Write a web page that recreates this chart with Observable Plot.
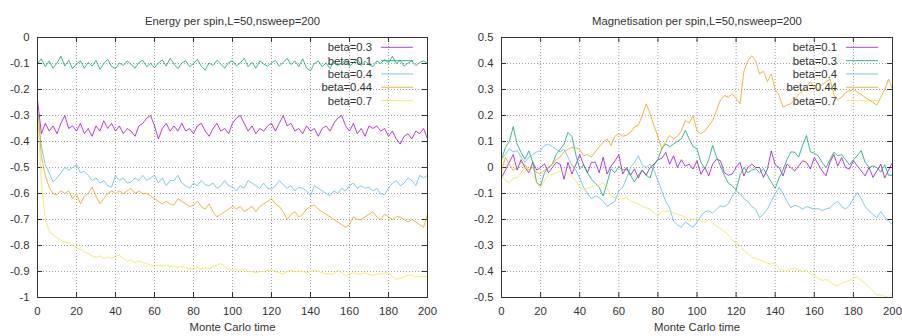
<!DOCTYPE html>
<html>
<head>
<meta charset="utf-8">
<script src="https://cdn.jsdelivr.net/npm/d3@7"></script>
<script src="https://cdn.jsdelivr.net/npm/@observablehq/plot@0.6"></script>
<style>
  body { margin: 0; background: #fff; }
  #charts { display: flex; width: 902px; height: 336px; }
</style>
</head>
<body>
<div id="charts"></div>
<script>
// Monte Carlo sweeps, sampled every second sweep
const time = d3.range(0, 201, 2);

// ---- Energy per spin (L=50, nsweep=200) ----
const energyLabels = ["beta=0.3", "beta=0.1", "beta=0.4", "beta=0.44", "beta=0.7"];

const energyBeta03 = [
  -0.24, -0.37, -0.33, -0.36, -0.34, -0.37, -0.33, -0.30, -0.35, -0.34,
  -0.36, -0.33, -0.37, -0.35, -0.38, -0.34, -0.36, -0.32, -0.35, -0.33,
  -0.36, -0.34, -0.37, -0.35, -0.36, -0.38, -0.34, -0.33, -0.31, -0.30,
  -0.34, -0.39, -0.35, -0.33, -0.36, -0.34, -0.36, -0.33, -0.36, -0.35,
  -0.37, -0.34, -0.33, -0.36, -0.38, -0.35, -0.33, -0.36, -0.35, -0.37,
  -0.33, -0.31, -0.30, -0.33, -0.36, -0.34, -0.37, -0.35, -0.36, -0.34,
  -0.33, -0.36, -0.33, -0.30, -0.34, -0.33, -0.36, -0.35, -0.37, -0.34,
  -0.36, -0.35, -0.38, -0.35, -0.34, -0.36, -0.33, -0.31, -0.30, -0.34,
  -0.36, -0.33, -0.37, -0.35, -0.38, -0.34, -0.35, -0.34, -0.36, -0.35,
  -0.38, -0.36, -0.39, -0.41, -0.38, -0.37, -0.39, -0.36, -0.37, -0.35,
  -0.39
];
const energyBeta01 = [
  -0.100, -0.082, -0.112, -0.090, -0.118, -0.098, -0.072, -0.110, -0.088, -0.120,
  -0.102, -0.090, -0.118, -0.096, -0.110, -0.088, -0.122, -0.100, -0.084, -0.112,
  -0.120, -0.098, -0.108, -0.090, -0.104, -0.118, -0.096, -0.088, -0.112, -0.100,
  -0.116, -0.098, -0.086, -0.110, -0.080, -0.102, -0.120, -0.098, -0.090, -0.112,
  -0.100, -0.084, -0.110, -0.126, -0.098, -0.108, -0.088, -0.102, -0.118, -0.096,
  -0.090, -0.110, -0.098, -0.080, -0.112, -0.096, -0.118, -0.090, -0.102, -0.110,
  -0.098, -0.088, -0.110, -0.096, -0.080, -0.104, -0.090, -0.112, -0.082, -0.118,
  -0.128, -0.100, -0.090, -0.112, -0.098, -0.120, -0.090, -0.108, -0.098, -0.088,
  -0.110, -0.098, -0.082, -0.108, -0.090, -0.104, -0.112, -0.090, -0.100, -0.084,
  -0.098, -0.072, -0.100, -0.088, -0.110, -0.098, -0.090, -0.108, -0.096, -0.090,
  -0.100
];
const energyBeta04 = [
  -0.27, -0.42, -0.49, -0.52, -0.556, -0.54, -0.52, -0.50, -0.51, -0.50,
  -0.49, -0.52, -0.515, -0.53, -0.55, -0.54, -0.56, -0.55, -0.57, -0.576,
  -0.53, -0.55, -0.54, -0.56, -0.556, -0.54, -0.55, -0.53, -0.55, -0.54,
  -0.53, -0.56, -0.54, -0.57, -0.55, -0.55, -0.53, -0.56, -0.57, -0.58,
  -0.56, -0.57, -0.55, -0.566, -0.57, -0.56, -0.58, -0.57, -0.55, -0.57,
  -0.575, -0.59, -0.57, -0.58, -0.55, -0.56, -0.57, -0.58, -0.56, -0.58,
  -0.583, -0.57, -0.55, -0.566, -0.58, -0.57, -0.59, -0.576, -0.58, -0.59,
  -0.608, -0.57, -0.58, -0.59, -0.60, -0.608, -0.59, -0.60, -0.58, -0.59,
  -0.57, -0.56, -0.58, -0.57, -0.58, -0.576, -0.59, -0.58, -0.60, -0.605,
  -0.58, -0.56, -0.55, -0.57, -0.56, -0.54, -0.55, -0.57, -0.53, -0.54,
  -0.53
];
const energyBeta044 = [
  -0.27, -0.46, -0.53, -0.576, -0.60, -0.605, -0.59, -0.60, -0.59, -0.62,
  -0.60, -0.64, -0.61, -0.60, -0.575, -0.61, -0.64, -0.62, -0.60, -0.59,
  -0.60, -0.59, -0.60, -0.59, -0.58, -0.60, -0.59, -0.60, -0.60, -0.61,
  -0.62, -0.63, -0.64, -0.63, -0.64, -0.645, -0.62, -0.63, -0.64, -0.65,
  -0.645, -0.63, -0.65, -0.66, -0.64, -0.67, -0.69, -0.68, -0.67, -0.66,
  -0.65, -0.66, -0.65, -0.67, -0.66, -0.65, -0.67, -0.65, -0.64, -0.63,
  -0.62, -0.64, -0.65, -0.67, -0.70, -0.68, -0.67, -0.69, -0.68, -0.66,
  -0.65, -0.645, -0.66, -0.67, -0.68, -0.69, -0.70, -0.71, -0.72, -0.73,
  -0.72, -0.69, -0.70, -0.70, -0.69, -0.68, -0.67, -0.69, -0.70, -0.68,
  -0.69, -0.70, -0.69, -0.69, -0.70, -0.71, -0.70, -0.71, -0.72, -0.73,
  -0.68
];
const energyBeta07 = [
  -0.27, -0.556, -0.70, -0.745, -0.76, -0.77, -0.78, -0.787, -0.79, -0.80,
  -0.81, -0.815, -0.825, -0.83, -0.84, -0.845, -0.84, -0.85, -0.845, -0.85,
  -0.84, -0.838, -0.85, -0.86, -0.855, -0.865, -0.86, -0.865, -0.87, -0.875,
  -0.88, -0.875, -0.88, -0.875, -0.88, -0.88, -0.885, -0.88, -0.885, -0.89,
  -0.89, -0.885, -0.89, -0.885, -0.89, -0.88, -0.875, -0.87, -0.88, -0.89,
  -0.896, -0.89, -0.895, -0.89, -0.90, -0.90, -0.905, -0.90, -0.90, -0.895,
  -0.895, -0.90, -0.905, -0.91, -0.90, -0.895, -0.90, -0.898, -0.90, -0.905,
  -0.90, -0.895, -0.898, -0.905, -0.91, -0.91, -0.91, -0.895, -0.905, -0.915,
  -0.91, -0.905, -0.91, -0.91, -0.905, -0.91, -0.915, -0.91, -0.91, -0.905,
  -0.905, -0.92, -0.93, -0.925, -0.92, -0.915, -0.915, -0.92, -0.92, -0.92,
  -0.92
];

// ---- Magnetisation per spin (L=50, nsweep=200) ----
const magLabels = ["beta=0.1", "beta=0.3", "beta=0.4", "beta=0.44", "beta=0.7"];

const magBeta01 = [
  -0.04, -0.01, 0.02, 0.05, -0.01, 0.03, 0.0, -0.02, 0.02, -0.01,
  0.0, 0.015, -0.02, 0.0, 0.02, 0.013, -0.045, 0.02, -0.025, 0.01,
  0.05, 0.01, -0.02, 0.02, 0.02, -0.02, 0.04, -0.025, 0.005, 0.025,
  0.05, -0.025, 0.0, -0.03, -0.005, -0.04, -0.01, -0.03, 0.0, 0.013,
  0.03, 0.035, 0.058, 0.013, 0.045, 0.0, 0.03, 0.005, 0.013, -0.006,
  0.026, -0.026, 0.0, -0.032, 0.013, 0.032, 0.026, -0.02, -0.03, -0.025,
  0.0, 0.02, -0.032, 0.0, 0.013, 0.0, 0.0, -0.038, -0.006, 0.064,
  0.01, 0.0, -0.032, 0.013, 0.0, -0.013, 0.006, 0.026, 0.02, -0.006,
  0.038, 0.013, -0.013, -0.032, 0.02, 0.05, 0.006, 0.038, 0.0, -0.006,
  0.026, 0.006, -0.013, -0.032, 0.0, -0.038, -0.013, 0.013, -0.04, -0.01,
  0.02
];
const magBeta03 = [
  0.03, 0.077, 0.10, 0.157, 0.09, 0.058, 0.032, 0.064, 0.02, -0.058,
  -0.07, -0.02, 0.0, 0.013, 0.05, 0.07, 0.09, 0.135, 0.12, 0.05,
  -0.006, 0.01, -0.02, -0.045, -0.06, -0.077, -0.11, -0.06, -0.005, -0.02,
  0.003, -0.01, -0.006, -0.03, -0.056, -0.03, -0.01, -0.03, -0.04, 0.01,
  0.03, 0.073, 0.09, 0.08, 0.09, 0.10, 0.11, 0.143, 0.11, 0.08,
  0.072, 0.02, -0.005, 0.03, 0.085, 0.04, 0.005, -0.03, -0.06, -0.07,
  -0.087, -0.03, 0.0, -0.02, -0.01, -0.005, -0.02, -0.005, -0.03, -0.056,
  -0.08, -0.04, -0.01, 0.03, 0.06, 0.059, 0.04, 0.085, 0.123, 0.06,
  0.055, 0.045, 0.02, 0.0, 0.03, 0.059, 0.045, 0.05, 0.03, 0.01,
  0.03, 0.045, 0.065, 0.02, 0.0, 0.006, 0.0, -0.018, 0.01, -0.03,
  -0.03
];
const magBeta04 = [
  0.033, 0.05, 0.072, 0.06, 0.065, 0.04, 0.02, 0.04, 0.05, 0.06,
  0.065, 0.085, 0.09, 0.08, 0.07, 0.06, 0.07, 0.04, 0.01, -0.01,
  -0.04, -0.077, -0.10, -0.12, -0.11, -0.116, -0.13, -0.15, -0.14, -0.13,
  -0.09, -0.077, -0.04, 0.0, 0.02, 0.045, 0.01, 0.0, 0.013, -0.01,
  -0.05, -0.09, -0.13, -0.155, -0.206, -0.22, -0.23, -0.21, -0.22, -0.23,
  -0.21, -0.187, -0.17, -0.167, -0.175, -0.16, -0.148, -0.15, -0.14, -0.11,
  -0.09, -0.10, -0.12, -0.13, -0.15, -0.16, -0.193, -0.18, -0.16, -0.13,
  -0.10, -0.077, -0.10, -0.13, -0.155, -0.145, -0.15, -0.16, -0.15, -0.155,
  -0.16, -0.158, -0.165, -0.16, -0.155, -0.14, -0.13, -0.15, -0.16, -0.145,
  -0.12, -0.097, -0.12, -0.15, -0.167, -0.18, -0.193, -0.17, -0.19, -0.206,
  -0.22
];
const magBeta044 = [
  -0.013, 0.04, 0.01, -0.01, 0.0, 0.02, 0.01, -0.01, 0.0, -0.02,
  -0.025, -0.01, 0.0, 0.013, 0.03, 0.04, 0.06, 0.07, 0.077, 0.075,
  0.07, 0.045, 0.05, 0.04, 0.06, 0.08, 0.097, 0.11, 0.085, 0.12,
  0.13, 0.12, 0.125, 0.135, 0.156, 0.162, 0.2, 0.245, 0.207, 0.16,
  0.12, 0.07, 0.10, 0.123, 0.11, 0.12, 0.14, 0.181, 0.17, 0.2,
  0.14, 0.13, 0.14, 0.16, 0.18, 0.22, 0.26, 0.277, 0.27, 0.284,
  0.265, 0.245, 0.37, 0.41, 0.43, 0.41, 0.36, 0.37, 0.33, 0.36,
  0.30, 0.277, 0.232, 0.24, 0.245, 0.26, 0.28, 0.296, 0.31, 0.33,
  0.31, 0.30, 0.32, 0.33, 0.34, 0.28, 0.26, 0.27, 0.288, 0.295,
  0.30, 0.29, 0.28, 0.27, 0.26, 0.25, 0.24, 0.27, 0.30, 0.34,
  0.30
];
const magBeta07 = [
  -0.03, -0.05, -0.06, -0.04, -0.04, -0.02, 0.0, -0.01, -0.03, -0.06,
  -0.077, -0.05, -0.03, -0.026, -0.02, -0.015, -0.02, -0.02, -0.035, -0.05,
  -0.077, -0.085, -0.08, -0.075, -0.07, -0.068, -0.058, -0.08, -0.11, -0.116,
  -0.12, -0.12, -0.116, -0.13, -0.135, -0.14, -0.15, -0.155, -0.16, -0.175,
  -0.187, -0.167, -0.17, -0.168, -0.175, -0.18, -0.185, -0.19, -0.206, -0.2,
  -0.198, -0.205, -0.21, -0.2, -0.215, -0.225, -0.235, -0.245, -0.26, -0.28,
  -0.29, -0.30, -0.32, -0.33, -0.345, -0.35, -0.355, -0.36, -0.368, -0.372,
  -0.365, -0.39, -0.395, -0.40, -0.39, -0.385, -0.395, -0.40, -0.395, -0.41,
  -0.415, -0.425, -0.435, -0.43, -0.44, -0.45, -0.455, -0.445, -0.44, -0.435,
  -0.425, -0.42, -0.435, -0.445, -0.46, -0.475, -0.49, -0.49, -0.495, -0.5,
  -0.48
];

// gnuplot's default line colours, in plotting order
const seriesColors = ["#9400d3", "#009e73", "#56b4e9", "#e69f00", "#f0e442"];

// axis ticks
const timeTicks = [0, 20, 40, 60, 80, 100, 120, 140, 160, 180, 200];
const energyTicks = [0, -0.1, -0.2, -0.3, -0.4, -0.5, -0.6, -0.7, -0.8, -0.9, -1];
const magTicks = [0.5, 0.4, 0.3, 0.2, 0.1, 0, -0.1, -0.2, -0.3, -0.4, -0.5];

const FONT = "'Liberation Sans', Arial, sans-serif";
const INK = "#333";
const H = 336, MT = 37, MB = 39;
const LINE_OPACITY = 0.75;

function panel({title, labels, series, yDomain, yTicks, width, marginLeft, marginRight}) {
  const rows = series.flatMap((vals, k) => vals.map((v, i) => ({t: time[i], v, s: labels[k]})));
  const frameW = width - marginLeft - marginRight;
  const frameH = H - MT - MB;
  const tick = 5;
  const fmt = d => String(+d.toFixed(1));
  const grid = {stroke: "#a0a0a0", strokeOpacity: 1, strokeDasharray: "1,2"};

  const chart = Plot.plot({
    width, height: H,
    marginTop: MT, marginBottom: MB, marginLeft, marginRight,
    style: {fontFamily: FONT, fontSize: "11.3px", color: INK, background: "#fff"},
    x: {domain: [0, 200]},
    y: {domain: yDomain},
    color: {domain: labels, range: seriesColors},
    marks: [
      Plot.gridX(timeTicks, grid),
      Plot.gridY(yTicks, grid),
      // inward tick marks on all four borders
      Plot.ruleX(timeTicks, {x: d => d, insetTop: frameH - tick, stroke: INK}),
      Plot.ruleX(timeTicks, {x: d => d, insetBottom: frameH - tick, stroke: INK}),
      Plot.ruleY(yTicks, {y: d => d, insetRight: frameW - tick, stroke: INK}),
      Plot.ruleY(yTicks, {y: d => d, insetLeft: frameW - tick, stroke: INK}),
      Plot.axisX(timeTicks, {tickSize: 0, tickPadding: 9, label: null, fill: INK}),
      Plot.axisY(yTicks, {tickSize: 0, tickPadding: 8, tickFormat: fmt, label: null, fill: INK}),
      Plot.line(rows, {x: "t", y: "v", z: "s", stroke: "s", strokeWidth: 1, strokeOpacity: LINE_OPACITY}),
      Plot.frame({stroke: INK}),
      Plot.text([title], {frameAnchor: "top", dy: -21, fill: INK}),
      Plot.text(["Monte Carlo time"], {frameAnchor: "bottom", dy: 33, fill: INK})
    ]
  });

  // key in the top-right corner, drawn beneath the curves
  const svg = d3.select(chart);
  const right = width - marginRight;
  const key = svg.insert("g", "g[aria-label=line]")
    .attr("font-family", FONT).attr("font-size", "11.3px");
  labels.forEach((lab, k) => {
    const y = MT + 10.3 + k * 13.33;
    key.append("text")
      .attr("x", right - 55).attr("y", y).attr("dy", "0.35em")
      .attr("text-anchor", "end").attr("fill", INK).text(lab);
    key.append("line")
      .attr("x1", right - 46).attr("x2", right - 14)
      .attr("y1", y).attr("y2", y)
      .attr("stroke", seriesColors[k]).attr("stroke-width", 1)
      .attr("stroke-opacity", LINE_OPACITY);
  });
  return chart;
}

const root = document.getElementById("charts");
root.append(panel({
  title: "Energy per spin,L=50,nsweep=200",
  labels: energyLabels,
  series: [energyBeta03, energyBeta01, energyBeta04, energyBeta044, energyBeta07],
  yDomain: [-1, 0], yTicks: energyTicks,
  width: 451, marginLeft: 37, marginRight: 24
}));
root.append(panel({
  title: "Magnetisation per spin,L=50,nsweep=200",
  labels: magLabels,
  series: [magBeta01, magBeta03, magBeta04, magBeta044, magBeta07],
  yDomain: [-0.5, 0.5], yTicks: magTicks,
  width: 451, marginLeft: 50, marginRight: 10
}));
</script>
</body>
</html>
